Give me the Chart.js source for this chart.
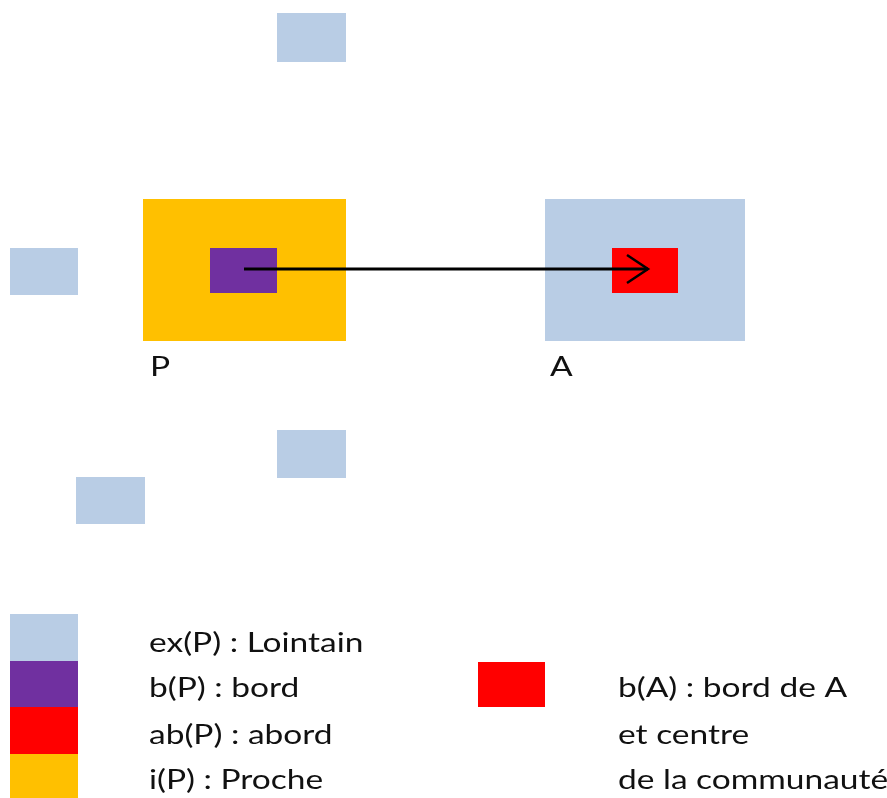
<!DOCTYPE html>
<html lang="fr">
<head>
<meta charset="UTF-8">
<title>Proche / Lointain</title>
<style>
  html, body { margin: 0; padding: 0; background: #fff; }
  #wrap { width: 887px; height: 798px; }
</style>
</head>
<body>
<script src="https://cdn.jsdelivr.net/npm/chart.js"></script>
<div id="wrap">
  <canvas id="myChart" width="887" height="798"></canvas>
</div>
<script>
// zones of the diagram (legend order)
const zones = ['ex', 'b', 'ab', 'i', 'bA'];
const zoneLabels = ['ex(P) : Lointain', 'b(P) : bord', 'ab(P) : abord', 'i(P) : Proche'];
const zoneLabelsA = ['b(A) : bord de A', 'et centre', 'de la communauté'];

// cells of the diagram, in diagram units (x right, y down)
const cellZone = ['ex', 'ex', 'i', 'b', 'ex', 'bA', 'ex', 'ex'];
const cellX0 = [277, 10, 143, 210, 545, 612, 277, 76];
const cellX1 = [346, 78, 346, 277, 745, 678, 346, 145];
const cellY0 = [13, 248, 199, 248, 199, 248, 430, 477];
const cellY1 = [62, 295, 341, 293, 341, 293, 478, 524];

// names of the two places
const placeNames = ['P', 'A'];
const placeX = [150, 550];
const placeY = [367, 367];

// displacement P -> A
const arrowX = [244, 648];
const arrowY = [269, 269];

const colors = { ex: '#B9CDE5', b: '#7030A0', ab: '#FF0000', i: '#FFC000', bA: '#FF0000' };
const legendRowY = [614, 661, 707, 754, 798];
const textRowY = [643, 688, 735, 780];

const drawDiagram = {
  id: 'drawDiagram',
  beforeDatasetsDraw(chart) {
    const ctx = chart.ctx;
    const xs = chart.scales.x, ys = chart.scales.y;
    const px = v => xs.getPixelForValue(v);
    const py = v => ys.getPixelForValue(v);
    ctx.save();
    for (let k = 0; k < cellZone.length; k++) {
      ctx.fillStyle = colors[cellZone[k]];
      const x0 = px(cellX0[k]), x1 = px(cellX1[k]);
      const y0 = py(cellY0[k]), y1 = py(cellY1[k]);
      ctx.fillRect(x0, y0, x1 - x0, y1 - y0);
    }
    // legend swatches
    for (let k = 0; k < 4; k++) {
      ctx.fillStyle = colors[zones[k]];
      ctx.fillRect(px(10), py(legendRowY[k]), px(78) - px(10), py(legendRowY[k + 1]) - py(legendRowY[k]));
    }
    ctx.fillStyle = colors.bA;
    ctx.fillRect(px(478), py(662), px(545) - px(478), py(707) - py(662));

    // text is a little wide in the original, stretch it
    const text = (t, x, y) => {
      ctx.save();
      ctx.translate(px(x), py(y));
      ctx.scale(1.24, 1);
      ctx.fillText(t, 0, 0);
      ctx.restore();
    };
    ctx.fillStyle = '#111';
    ctx.textBaseline = 'middle';
    ctx.font = '27px Lato, "Open Sans", sans-serif';
    for (let k = 0; k < placeNames.length; k++) {
      text(placeNames[k], placeX[k], placeY[k]);
    }
    for (let k = 0; k < zoneLabels.length; k++) {
      text(zoneLabels[k], 149, textRowY[k]);
    }
    for (let k = 0; k < zoneLabelsA.length; k++) {
      text(zoneLabelsA[k], 618, textRowY[k + 1]);
    }
    ctx.restore();
  },
  afterDatasetsDraw(chart) {
    // open arrow head at the end of the line
    const ctx = chart.ctx;
    const xs = chart.scales.x, ys = chart.scales.y;
    const ex = xs.getPixelForValue(arrowX[1]), ey = ys.getPixelForValue(arrowY[1]);
    ctx.save();
    ctx.strokeStyle = '#000';
    ctx.lineWidth = 2.5;
    ctx.beginPath();
    ctx.moveTo(ex - 21, ey - 14);
    ctx.lineTo(ex, ey);
    ctx.lineTo(ex - 21, ey + 14);
    ctx.stroke();
    ctx.restore();
  }
};

const data = {
  datasets: [{
    label: 'P -> A',
    data: arrowX.map((x, i) => ({ x: x, y: arrowY[i] })),
    showLine: true,
    borderColor: '#000',
    borderWidth: 3,
    pointRadius: 0
  }]
};

const config = {
  type: 'scatter',
  data,
  options: {
    responsive: false,
    animation: false,
    devicePixelRatio: 1,
    layout: { padding: 0 },
    plugins: { legend: { display: false }, tooltip: { enabled: false } },
    scales: {
      x: { type: 'linear', min: 0, max: 887, display: false },
      y: { type: 'linear', min: 0, max: 798, reverse: true, display: false }
    }
  },
  plugins: [drawDiagram]
};

var myChart = new Chart(document.getElementById('myChart'), config);
</script>
</body>
</html>
